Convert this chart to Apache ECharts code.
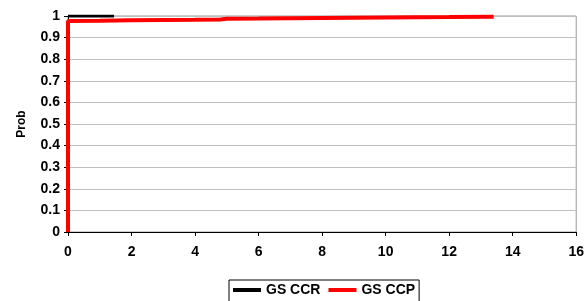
<!DOCTYPE html>
<html>
<head>
<meta charset="utf-8">
<script src="https://cdn.jsdelivr.net/npm/echarts@6/dist/echarts.min.js"></script>
<style>
  html, body { margin: 0; padding: 0; background: #fff; }
  #chart { width: 587px; height: 301px; }
</style>
</head>
<body>
<div id="chart"></div>
<script>
// valores
const ccrX = [0, 1.45];
const ccrY = [1, 1];
const ccpX = [0, 0, 1, 2, 3, 4, 4.8, 5, 6, 8, 10, 12, 13.4];
const ccpY = [0, 0.977, 0.978, 0.98, 0.982, 0.983, 0.984, 0.987, 0.988, 0.991, 0.993, 0.995, 0.997];

function pares(xs, ys) {
    return xs.map((x, i) => [x, ys[i]]);
}

const font = 'Liberation Sans, Arial, sans-serif';
const chart = echarts.init(document.getElementById('chart'));

chart.setOption({
    animation: false,
    grid: {
        left: 68, right: 5, top: 16, bottom: 69,
        show: true, borderColor: '#999', borderWidth: 1
    },
    legend: {
        left: 229, top: 280,
        itemWidth: 28, itemHeight: 4, itemGap: 8,
        icon: 'rect',
        borderColor: '#000', borderWidth: 1,
        padding: [3, 4, 6, 4],
        textStyle: { fontFamily: font, fontWeight: 'bold', fontSize: 14, color: '#000' },
        data: ['GS CCR', 'GS CCP']
    },
    xAxis: {
        type: 'value', min: 0, max: 16, interval: 2,
        axisLine: { lineStyle: { color: '#000', width: 1 } },
        axisTick: { show: true, inside: false, length: 4, lineStyle: { color: '#000' } },
        axisLabel: { fontFamily: font, fontWeight: 'bold', fontSize: 14, color: '#000', margin: 13 },
        splitLine: { show: false }
    },
    yAxis: {
        type: 'value', min: 0, max: 1, interval: 0.1,
        name: 'Prob', nameLocation: 'middle', nameGap: 40,
        nameTextStyle: { fontFamily: font, fontWeight: 'bold', fontSize: 12, color: '#000' },
        axisLine: { show: true, lineStyle: { color: '#000', width: 1 } },
        axisTick: { show: true, inside: false, length: 4, lineStyle: { color: '#000' } },
        axisLabel: {
            fontFamily: font, fontWeight: 'bold', fontSize: 14, color: '#000', margin: 8,
            formatter: v => (Math.round(v * 10) / 10).toString()
        },
        splitLine: { show: true, lineStyle: { color: '#c0c0c0', width: 1 } }
    },
    series: [
        {
            name: 'GS CCR', type: 'line', data: pares(ccrX, ccrY),
            symbol: 'none', itemStyle: { color: '#000' },
            lineStyle: { color: '#000', width: 3 }
        },
        {
            name: 'GS CCP', type: 'line', data: pares(ccpX, ccpY),
            symbol: 'none', itemStyle: { color: '#ff0000' },
            lineStyle: { color: '#ff0000', width: 4 }
        }
    ]
});
</script>
</body>
</html>
